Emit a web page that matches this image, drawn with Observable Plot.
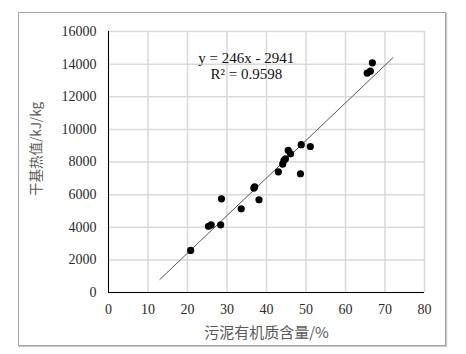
<!DOCTYPE html>
<html>
<head>
<meta charset="utf-8">
<script src="https://cdn.jsdelivr.net/npm/d3@7"></script>
<script src="https://cdn.jsdelivr.net/npm/@observablehq/plot@0.6"></script>
<style>
  html, body { margin: 0; padding: 0; background: #fff; }
  #wrap { position: relative; width: 466px; height: 354px; }
  #frame { position: absolute; left: 18px; top: 12px; width: 426px; height: 332px;
           border: 1px solid #a6a6a6; box-shadow: 1px 1px 1px #c8c8c8; }
  #chart { position: absolute; left: 0; top: 0; }
</style>
</head>
<body>
<div id="wrap"><div id="frame"></div><div id="chart"></div></div>
<script>
// organic matter content (%)
const organic = [20.8, 25.3, 26.0, 28.4, 28.6, 33.6, 36.8, 37.0, 38.1, 43.0, 44.1, 44.4, 44.8, 45.5, 46.1, 48.6, 48.8, 51.1, 65.5, 66.3, 66.8];
// dry-basis calorific value (kJ/kg)
const heatValue = [2580, 4060, 4150, 4150, 5740, 5130, 6400, 6480, 5680, 7400, 7870, 8090, 8200, 8710, 8500, 7280, 9060, 8950, 13450, 13570, 14080];
// trendline end points as drawn
const trendX = [13, 72];
const trendY = [800, 14390];
// equation annotation
const eqText = ["y = 246x - 2941", "R² = 0.9598"];
const eqX = [34.9, 34.9];
const eqY = [14350, 13370];
const xTicks = [0, 10, 20, 30, 40, 50, 60, 70, 80];
const yTicks = [0, 2000, 4000, 6000, 8000, 10000, 12000, 14000, 16000];
const xLabel = "污泥有机质含量/%";
const yLabel = "干基热值/kJ/kg";

const points = organic.map((x, i) => ({x, y: heatValue[i]}));
const trend = trendX.map((x, i) => ({x, y: trendY[i]}));
const eq = eqText.map((t, i) => ({t, x: eqX[i], y: eqY[i]}));

const tickFont = "'Liberation Serif', 'Times New Roman', serif";
const cjkFont = "'Noto Sans CJK SC', 'Noto Sans', sans-serif";

const chart = Plot.plot({
  width: 466,
  height: 354,
  marginLeft: 108,
  marginRight: 42,
  marginTop: 31,
  marginBottom: 62,
  style: { fontFamily: tickFont, fontSize: "14px", color: "#2a2a2a", background: "transparent" },
  x: { domain: [0, 80], ticks: xTicks, label: null },
  y: { domain: [0, 16000], ticks: yTicks, label: null },
  marks: [
    Plot.gridX(xTicks, { stroke: "#d9d9d9", strokeOpacity: 1, strokeWidth: 1.5 }),
    Plot.gridY(yTicks, { stroke: "#d9d9d9", strokeOpacity: 1, strokeWidth: 1.5 }),
    Plot.axisX({ ticks: xTicks, tickSize: 0, tickPadding: 12, label: null, fontSize: 14, tickFormat: d3.format("d") }),
    Plot.axisY({ ticks: yTicks, tickSize: 0, tickPadding: 12, label: null, fontSize: 14, tickFormat: d3.format("d") }),
    Plot.ruleX([0], { stroke: "#000", strokeWidth: 1 }),
    Plot.ruleY([0], { stroke: "#000", strokeWidth: 1 }),
    Plot.line(trend, { x: "x", y: "y", stroke: "#555", strokeWidth: 1 }),
    Plot.dot(points, { x: "x", y: "y", r: 3.6, fill: "#000", stroke: "none" }),
    Plot.text(eq, { x: "x", y: "y", text: "t", fontSize: 15, fill: "#111", fontFamily: tickFont }),
    Plot.text([xLabel], { frameAnchor: "bottom", dy: 41, lineAnchor: "middle", textAnchor: "middle", fontSize: 15, fill: "#595959", fontFamily: cjkFont }),
    Plot.text([yLabel], { frameAnchor: "left", dx: -72, dy: -13, rotate: -90, textAnchor: "middle", lineAnchor: "middle", fontSize: 13.5, fill: "#595959", fontFamily: cjkFont })
  ]
});
document.getElementById("chart").appendChild(chart);
</script>
</body>
</html>
